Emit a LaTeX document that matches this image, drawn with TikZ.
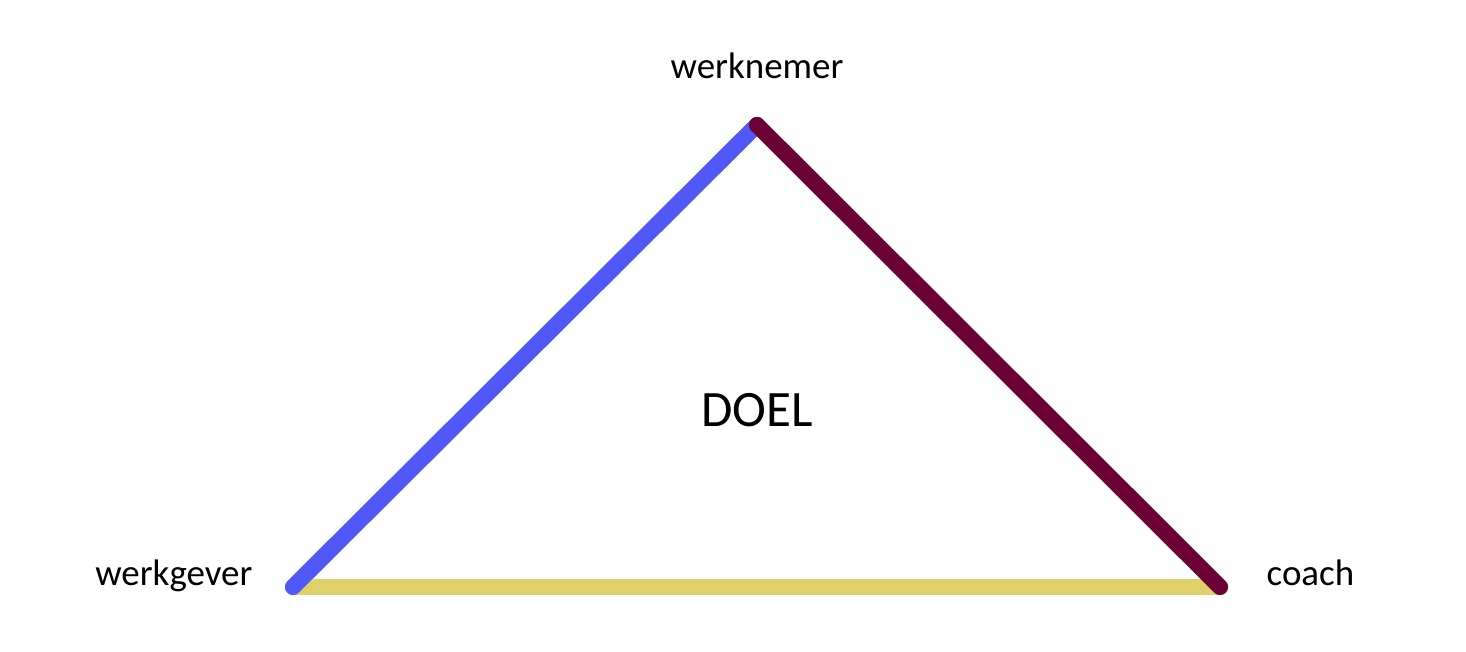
\documentclass[tikz,border=0pt]{standalone}
\usepackage{fontspec}
\setmainfont{Carlito}
\usepackage{tikz}
\usetikzlibrary{positioning}
\definecolor{sideblue}{HTML}{5058F5}
\definecolor{sidewine}{HTML}{6A0036}
\definecolor{sidegold}{HTML}{DFD06A}

\begin{document}
\begin{tikzpicture}[
    x=0.01cm,y=-0.01cm,
    side/.style={line width=4.6pt,line cap=round},
    role/.style={font=\fontsize{10.5}{12}\selectfont,inner sep=0pt,anchor=base},
    goal/.style={font=\fontsize{14.5}{17}\selectfont,inner sep=0pt,anchor=base}
  ]
    \useasboundingbox (0,0) rectangle (1466,652);
    \coordinate (wn) at (757,125);
    \coordinate (wg) at (293,587);
    \coordinate (co) at (1220,587);
    \node[role] (lwn) at (757,79) {werknemer};
    \node[role,anchor=base east] (lwg) at (253,586) {werkgever};
    \node[role,anchor=base west] (lco) at (1266,586) {coach};
    \node[goal] (doel) at (757,427) {DOEL};
    % bottom side first, so the slanted sides lie over it
    \draw[side,sidegold] (wg) -- (co);
    \draw[side,sideblue] (wg) -- (wn);
    \draw[side,sidewine] (wn) -- (co);
  \end{tikzpicture}
\end{document}
